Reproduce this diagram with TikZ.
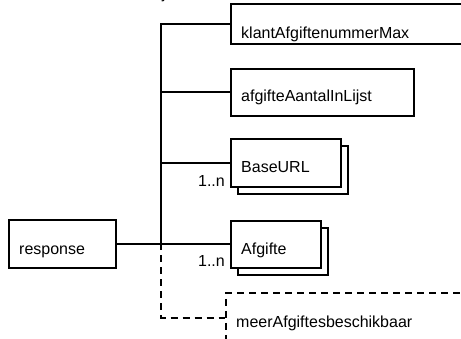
\documentclass[tikz,border=0pt]{standalone}
\usepackage{fontspec}
\setmainfont{Liberation Sans}
\begin{document}
\begin{tikzpicture}[x=1pt,y=-1pt,
  box/.style={draw=black, line width=1.8pt, fill=white, inner sep=0pt, anchor=north west},
  dbox/.style={draw=black, line width=1.6pt, dash pattern=on 7pt off 5pt, inner sep=0pt, anchor=north west},
  conn/.style={draw=black, line width=1.8pt},
  dconn/.style={draw=black, line width=1.6pt, dash pattern=on 7pt off 5pt},
  lbl/.style={font=\fontsize{16}{18}\selectfont, inner sep=0pt, anchor=base west},
  mult/.style={font=\fontsize{16}{18}\selectfont, inner sep=0pt, anchor=base east}]
\useasboundingbox (0,0) rectangle (461,339);
\clip (0,0) rectangle (461,339);
% cropped title fragment
\node[lbl] (title) at (162,-1) {j};
% boxes
\node[box, minimum width=262pt, minimum height=40pt] (klant) at (230,3) {};
\node[box, minimum width=183pt, minimum height=47pt] (aantal) at (230,68) {};
\node[box, minimum width=110pt, minimum height=48pt] (baseS) at (237,145) {};
\node[box, minimum width=110pt, minimum height=48pt] (base) at (230,138) {};
\node[box, minimum width=90pt, minimum height=47pt] (afgS) at (237,227) {};
\node[box, minimum width=90pt, minimum height=47pt] (afg) at (230,220) {};
\node[box, minimum width=107pt, minimum height=48pt] (resp) at (8,219.5) {};
\node[dbox, minimum width=260pt, minimum height=50pt] (meer) at (225,292) {};
% labels
\node[lbl] (tklant) at (241,39) {klantAfgiftenummerMax};
\node[lbl] (taantal) at (241,102) {afgifteAantalInLijst};
\node[lbl] (tbase) at (241,173) {BaseURL};
\node[lbl] (tafg) at (241,255) {Afgifte};
\node[lbl] (tresp) at (19,255) {response};
\node[lbl] (tmeer) at (236,328) {meerAfgiftesbeschikbaar};
\node[mult] (m1) at (225,187) {1..n};
\node[mult] (m2) at (225,267) {1..n};
% connectors
\coordinate (hub) at (161,243.5);
\draw[conn] (resp.east) -- (afg.west);
\draw[conn] (klant.west) -| (hub);
\draw[conn] (aantal.west) -- (aantal.west -| hub);
\draw[conn] (base.west) -- (base.west -| hub);
\draw[dconn] (hub) |- (meer.west);
\end{tikzpicture}
\end{document}
